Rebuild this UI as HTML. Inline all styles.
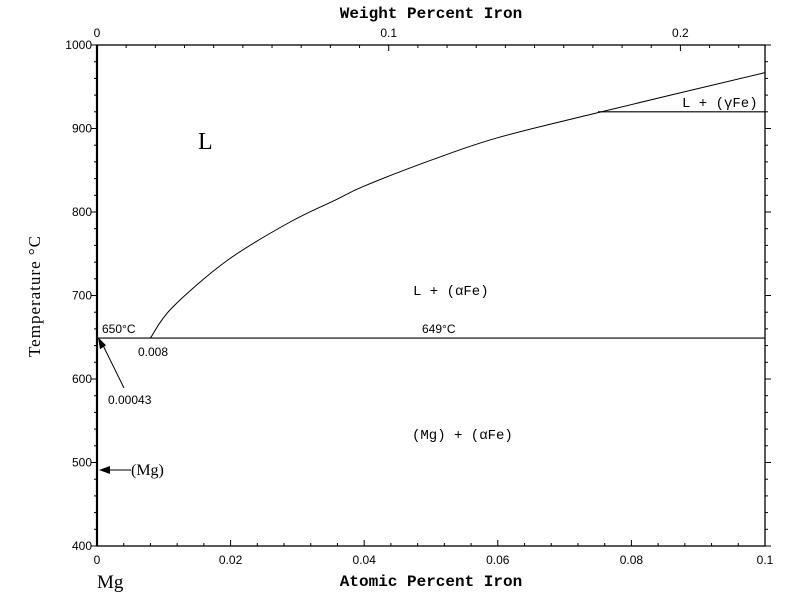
<!DOCTYPE html>
<html><head><meta charset="utf-8"><style>
body{margin:0;background:#fff;}
svg text{font-family:"Liberation Mono",monospace;fill:#000;}
</style></head><body>
<svg id="chart" width="800" height="597" xmlns="http://www.w3.org/2000/svg"></svg>
<script>
const liqX=[0.008,0.0112,0.0195,0.0289,0.0356,0.04,0.05,0.06,0.075,0.1];
const liqT=[649,685,742,788,814,831,862,889,919,967];
const eutecticT=649;
const mgMeltT=650;
const gammaT=920;
const gammaX=0.075;
const xTicks=[0,0.02,0.04,0.06,0.08,0.1];
const xTickLabels=["0","0.02","0.04","0.06","0.08","0.1"];
const yTicks=[400,500,600,700,800,900,1000];
const wTicks=[0,0.1,0.2];
const wTickLabels=["0","0.1","0.2"];

const L=97,R=765,T=45,B=546;
const sx=v=>L+(v-0)/(0.1)*(R-L);
const sy=v=>B-(v-400)/600*(B-T);
const sw=v=>L+v/0.229*(R-L);
const svg=document.getElementById('chart');
const NS='http://www.w3.org/2000/svg';
function mk(tag,attrs,txt){const e=document.createElementNS(NS,tag);for(const k in attrs)e.setAttribute(k,attrs[k]);if(txt!==undefined)e.textContent=txt;svg.appendChild(e);return e;}
function line(x1,y1,x2,y2,w){return mk('line',{x1,y1,x2,y2,stroke:'#000','stroke-width':w||1});}
const SANS='font-family:"Liberation Sans",sans-serif';
const SERIF='font-family:"Liberation Serif",serif';

let e=mk('rect',{x:L,y:T,width:R-L,height:B-T,fill:'none',stroke:'#000','stroke-width':1.3});


line(L,T,L,B,2.2);
for(let v=400;v<=1000;v+=20){const y=sy(v);const big=v%100===0;line(L-(big?6:3),y,L,y);line(R,y,R+(big?6:3),y);}
yTicks.forEach(v=>{const t=mk('text',{x:L-5,y:sy(v)+4,'text-anchor':'end','font-size':12,style:SANS},String(v));

});
for(let i=0;i<=25;i++){const v=i*0.004;const x=sx(v);const big=i%5===0;line(x,B,x,B-(big?6:3));}
xTicks.forEach((v,i)=>{const t=mk('text',{x:sx(v),y:B+18,'text-anchor':'middle','font-size':12,style:SANS},xTickLabels[i]);

});
for(let i=0;i<=22;i++){const v=i*0.01;const x=sw(v);line(x,T,x,T+(i%10===0?6:3));}
wTicks.forEach((v,i)=>{const t=mk('text',{x:sw(v),y:T-8,'text-anchor':'middle','font-size':12,style:SANS},wTickLabels[i]);

});
e=mk('text',{x:431,y:18,'text-anchor':'middle','font-size':16,'font-weight':'bold',style:'font-family:"Liberation Mono",monospace'},'Weight Percent Iron');


e=mk('text',{x:431,y:586,'text-anchor':'middle','font-size':16,'font-weight':'bold'},'Atomic Percent Iron');


e=mk('text',{x:40,y:296,'text-anchor':'middle','font-size':17,style:SERIF+';letter-spacing:1px',transform:'rotate(-90 40 296)'},'Temperature °C');


e=mk('text',{x:97,y:588,'font-size':19,style:SERIF},'Mg');


e=line(L,sy(eutecticT),R,sy(eutecticT),1.2);


e=line(sx(gammaX),sy(gammaT),R,sy(gammaT),1.2);


// smooth liquidus via Catmull-Rom
const P=liqX.map((v,i)=>[sx(v),sy(liqT[i])]);
let d='M'+P[0][0].toFixed(1)+','+P[0][1].toFixed(1);
for(let i=0;i<P.length-1;i++){const p0=P[Math.max(0,i-1)],p1=P[i],p2=P[i+1],p3=P[Math.min(P.length-1,i+2)];
const c1=[p1[0]+(p2[0]-p0[0])/6,p1[1]+(p2[1]-p0[1])/6],c2=[p2[0]-(p3[0]-p1[0])/6,p2[1]-(p3[1]-p1[1])/6];
d+=` C${c1[0].toFixed(1)},${c1[1].toFixed(1)} ${c2[0].toFixed(1)},${c2[1].toFixed(1)} ${p2[0].toFixed(1)},${p2[1].toFixed(1)}`;}
e=mk('path',{d,fill:'none',stroke:'#000','stroke-width':1});


line(124,388,101,sy(mgMeltT)+4);
e=mk('polygon',{points:`${L+1},${sy(mgMeltT)} ${L+3},${sy(mgMeltT)+12} ${L+9},${sy(mgMeltT)+8}`,fill:'#000'});


line(110,470,131,470);
e=mk('polygon',{points:`${L+2},470 ${L+13},466 ${L+13},474`,fill:'#000'});


const labs=[['650°C',102,333,12,SANS],['0.008',138,356,12,SANS],['649°C',422,333,12,SANS],['0.00043',108,404,12,SANS],['(Mg)',131,475,16,SERIF],['L',198,149,24,SERIF],['L + (αFe)',413,295,14,''],['(Mg) + (αFe)',412,439,14,''],['L + (γFe)',682,107,14,'']];
labs.forEach(a=>{const t=mk('text',{x:a[1],y:a[2],'font-size':a[3],style:a[4]},a[0]);

});
</script>
</body></html>
